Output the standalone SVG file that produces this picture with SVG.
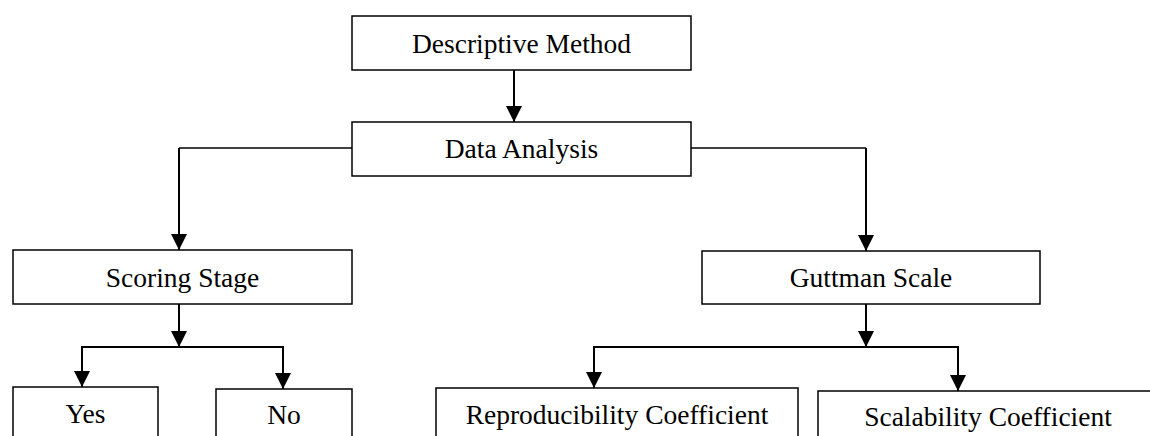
<svg xmlns="http://www.w3.org/2000/svg" width="1150" height="436" viewBox="0 0 1150 436">
  <style>
    .box { fill: #ffffff; stroke: #000000; stroke-width: 1.5; }
    .lbl { font-family: "Liberation Serif", "Times New Roman", serif; font-size: 27.5px; fill: #000000; text-anchor: middle; }
    .ln { fill: none; stroke: #000000; stroke-width: 2; }
    .hl { fill: none; stroke: #000000; stroke-width: 1.6; }
  </style>
  <defs>
    <marker id="arrow" markerUnits="userSpaceOnUse" markerWidth="16" markerHeight="16" refX="16" refY="8" orient="auto">
      <path d="M0,0 L16,8 L0,16 Z" fill="#000000"/>
    </marker>
  </defs>
  <rect width="1150" height="436" fill="#ffffff"/>

  <g id="connectors">
    <path class="ln" d="M514,70 V122" marker-end="url(#arrow)"/>
    <path class="hl" d="M352,148 H179"/>
    <path class="ln" d="M179,148 V250" marker-end="url(#arrow)"/>
    <path class="hl" d="M691,148 H866"/>
    <path class="ln" d="M866,148 V251" marker-end="url(#arrow)"/>
    <path class="ln" d="M179,304 V347" marker-end="url(#arrow)"/>
    <path class="ln" d="M81,347 H284"/>
    <path class="ln" d="M82,347 V387" marker-end="url(#arrow)"/>
    <path class="ln" d="M283,347 V389" marker-end="url(#arrow)"/>
    <path class="ln" d="M866,304 V347" marker-end="url(#arrow)"/>
    <path class="ln" d="M593,347 H959"/>
    <path class="ln" d="M594,347 V388" marker-end="url(#arrow)"/>
    <path class="ln" d="M958,347 V391" marker-end="url(#arrow)"/>
  </g>

  <g id="descriptive-method">
    <rect class="box" x="352" y="16" width="339" height="54"/>
    <text class="lbl" x="521.5" y="53">Descriptive Method</text>
  </g>
  <g id="data-analysis">
    <rect class="box" x="352" y="122" width="339" height="54"/>
    <text class="lbl" x="521.5" y="158">Data Analysis</text>
  </g>
  <g id="scoring-stage">
    <rect class="box" x="13" y="250" width="339" height="54"/>
    <text class="lbl" x="182.5" y="287">Scoring Stage</text>
  </g>
  <g id="guttman-scale">
    <rect class="box" x="702" y="251" width="338" height="53"/>
    <text class="lbl" x="871" y="287">Guttman Scale</text>
  </g>
  <g id="yes">
    <rect class="box" x="13" y="387" width="145" height="60"/>
    <text class="lbl" x="85.5" y="423">Yes</text>
  </g>
  <g id="no">
    <rect class="box" x="216" y="389" width="136" height="60"/>
    <text class="lbl" x="284" y="424">No</text>
  </g>
  <g id="reproducibility-coefficient">
    <rect class="box" x="436" y="388" width="362" height="60"/>
    <text class="lbl" x="617" y="424">Reproducibility Coefficient</text>
  </g>
  <g id="scalability-coefficient">
    <rect class="box" x="818" y="391" width="340" height="60"/>
    <text class="lbl" x="988" y="426">Scalability Coefficient</text>
  </g>
</svg>
